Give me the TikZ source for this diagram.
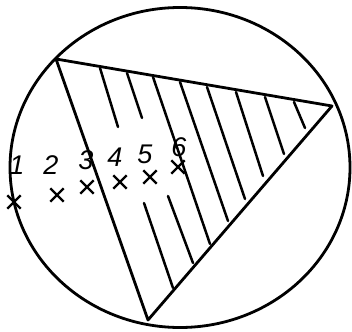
\documentclass[tikz,border=0pt]{standalone}
\usepackage{fontspec}
\setmainfont{Liberation Sans}
\usetikzlibrary{shapes.misc}
\begin{document}
\begin{tikzpicture}[x=1pt,y=-1pt,
  outline/.style={line width=2.8pt,line join=round,line cap=round},
  hatch/.style={line width=2.5pt,line cap=round},
  xmark/.style={cross out,draw,line width=2.4pt,minimum size=11pt,inner sep=0pt},
  lbl/.style={font=\fontsize{27}{27}\selectfont\itshape,inner sep=0pt}]
\useasboundingbox (0,0) rectangle (352,331);
% circle
\draw[outline] (180,167.5) ellipse [x radius=170,y radius=160];
% triangle
\coordinate (A) at (56,59);
\coordinate (B) at (332,106);
\coordinate (C) at (148,320);
\draw[outline] (A) -- (B) -- (C) -- cycle;
% hatching
\coordinate (h1a) at (100,68);  \coordinate (h1b) at (118,127);
\coordinate (h1c) at (144,203); \coordinate (h1d) at (173,288);
\coordinate (h2a) at (127,73);  \coordinate (h2b) at (142,118);
\coordinate (h2c) at (168,196); \coordinate (h2d) at (193,263);
\coordinate (h3a) at (153,77);  \coordinate (h3b) at (210,244);
\coordinate (h4a) at (180,82);  \coordinate (h4b) at (228,221);
\coordinate (h5a) at (207,87);  \coordinate (h5b) at (245,199);
\coordinate (h6a) at (236,92);  \coordinate (h6b) at (263,176);
\coordinate (h7a) at (265,97);  \coordinate (h7b) at (284,154);
\coordinate (h8a) at (294,102); \coordinate (h8b) at (305,128);
\draw[hatch] (h1a) -- (h1b) (h1c) -- (h1d)
             (h2a) -- (h2b) (h2c) -- (h2d)
             (h3a) -- (h3b) (h4a) -- (h4b) (h5a) -- (h5b)
             (h6a) -- (h6b) (h7a) -- (h7b) (h8a) -- (h8b);
% labels
\node[lbl] (n1) at (17,165) {1};
\node[lbl] (n2) at (51,165) {2};
\node[lbl] (n3) at (86,160) {3};
\node[lbl] (n4) at (115,157) {4};
\node[lbl] (n5) at (145,154) {5};
\node[lbl] (n6) at (179,147) {6};
% crosses
\node[xmark] (x1) at (14,202) {};
\node[xmark] (x2) at (57,195) {};
\node[xmark] (x3) at (87,187) {};
\node[xmark] (x4) at (120,182) {};
\node[xmark] (x5) at (150,177) {};
\node[xmark] (x6) at (178,167) {};
\end{tikzpicture}
\end{document}
